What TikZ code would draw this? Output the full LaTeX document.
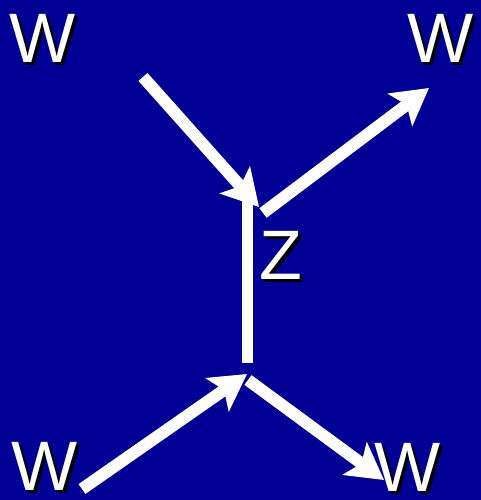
\documentclass[tikz,border=0pt]{standalone}
\usepackage{fontspec}
\setmainfont{Liberation Sans}
\usetikzlibrary{arrows.meta}
\definecolor{bgblue}{RGB}{0,0,148}
\begin{document}
\begin{tikzpicture}[x=1pt,y=-1pt,
  lbl/.style={font=\fontsize{70}{70}\selectfont, text=white, inner sep=0pt, anchor=center},
  shadowlbl/.style={font=\fontsize{70}{70}\selectfont, text=black, inner sep=0pt, anchor=center},
  arr/.style={draw=white, line width=12pt, -{Stealth[length=36pt,width=40pt,inset=8pt]}},
  bar/.style={draw=white, line width=11pt}]
\fill[bgblue] (0,0) rectangle (481,500);
\useasboundingbox (0,0) rectangle (481,500);
% labels with shadows
\foreach \n/\x/\y/\t in {w1/43/38/W, w2/441/38/W, w3/45/466/W, w4/408/467/W, z/281/255/Z}{
  \node[shadowlbl] (\n s) at (\x+3,\y+3) {\t};
  \node[lbl] (\n) at (\x,\y) {\t};
}
\coordinate (a1) at (143,77);
\coordinate (a1t) at (259,207);
\coordinate (a2) at (263,213);
\coordinate (a2t) at (429,88);
\coordinate (vt) at (247,195);
\coordinate (vb) at (247,363);
\coordinate (a3) at (82,489);
\coordinate (a3t) at (247,374);
\coordinate (a4) at (248,380);
\coordinate (a4t) at (384,480);
\draw[bar] (vt) -- (vb);
\draw[arr] (a1) -- (a1t);
\draw[arr] (a2) -- (a2t);
\draw[arr] (a3) -- (a3t);
\draw[arr] (a4) -- (a4t);
\end{tikzpicture}
\end{document}
